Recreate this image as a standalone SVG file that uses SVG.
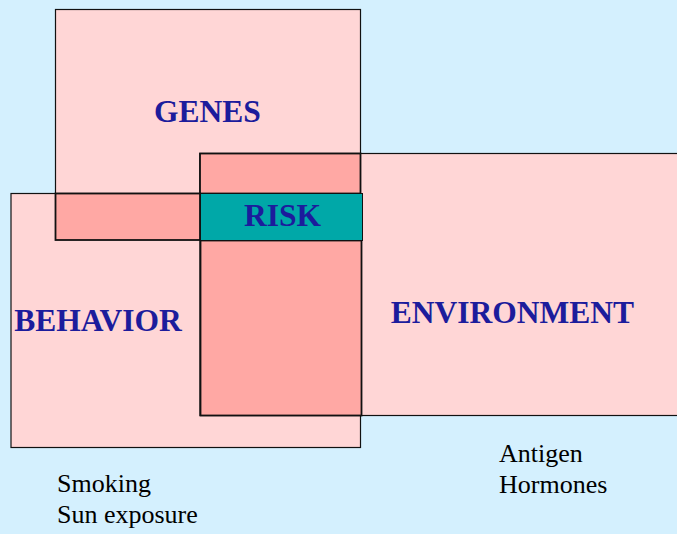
<svg xmlns="http://www.w3.org/2000/svg" width="677" height="534" viewBox="0 0 677 534">
<style>
.big{fill:#FFD6D6;stroke:#111;stroke-width:1.2}
.ov{fill:#FFA8A4;stroke:#111;stroke-width:1.8}
</style>
<rect width="677" height="534" fill="#D4F0FE"/>
<g id="genes"><rect class="big" x="55.5" y="9.5" width="305" height="231"/></g>
<g id="behavior"><rect class="big" x="11" y="193.5" width="349.5" height="254"/></g>
<g id="environment"><rect class="big" x="200" y="153.5" width="480" height="262"/></g>
<g id="overlaps">
<rect class="ov" x="200" y="153.5" width="160.5" height="40"/>
<rect class="ov" x="55.5" y="193.5" width="144.5" height="46.5"/>
<rect class="ov" x="200.5" y="240.5" width="161" height="175"/>
</g>
<g id="risk"><rect x="200.5" y="193.5" width="162" height="47" fill="#00A8A8" stroke="#111" stroke-width="1"/>
<text x="282.5" y="226" font-family="Liberation Serif" font-weight="bold" font-size="31.5" fill="#1C1C9C" text-anchor="middle">RISK</text></g>
<g font-family="Liberation Serif" font-weight="bold" font-size="31.5" fill="#1C1C9C" text-anchor="middle">
<text x="207.5" y="122">GENES</text>
<text x="98" y="331">BEHAVIOR</text>
<text x="512.5" y="323">ENVIRONMENT</text>
</g>
<g font-family="Liberation Serif" font-size="26" fill="#000">
<text x="499" y="462">Antigen</text>
<text x="499" y="493">Hormones</text>
<text x="57" y="492">Smoking</text>
<text x="57" y="523">Sun exposure</text>
</g>
</svg>
